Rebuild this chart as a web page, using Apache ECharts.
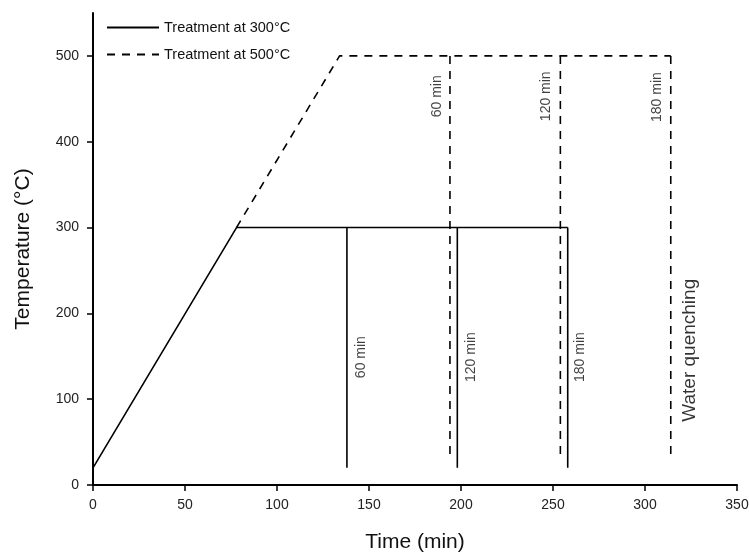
<!DOCTYPE html>
<html>
<head>
<meta charset="utf-8">
<script src="https://cdn.jsdelivr.net/npm/echarts@6/dist/echarts.min.js"></script>
<style>html,body{margin:0;padding:0;background:#fff}#c{width:749px;height:555px}</style>
</head>
<body>
<div id="c"></div>
<script>
// Treatment at 300°C : heating ramp + hold
const solidPath = [[0, 20], [78, 300], [258, 300]];
// quench verticals for 300°C (x, top, bottom)
const solidDrops = [[138, 300, 20], [198, 300, 20], [258, 300, 20]];
// Treatment at 500°C : continuing ramp + hold
const dashedPath = [[78, 300], [134, 500], [314, 500]];
const dashedDrops = [[194, 500, 35], [254, 500, 35], [314, 500, 35]];
// annotation labels [x, y, text]
const solidLabels = [[145.5, 149, '60 min'], [205.5, 149, '120 min'], [264.5, 149, '180 min']];
const dashedLabels = [[187, 453, '60 min'], [246.5, 453, '120 min'], [306.5, 452, '180 min']];
const quenchLabel = [[324.5, 157, 'Water quenching']];
const xTicks = [0, 50, 100, 150, 200, 250, 300, 350];
const yTicks = [0, 100, 200, 300, 400, 500];

const S1 = 'Treatment at 300°C', S2 = 'Treatment at 500°C';
const FONT = 'Liberation Sans, Arial, sans-serif';
const solidStyle = {color: '#000', width: 1.6, type: 'solid'};
const dashedStyle = {color: '#000', width: 1.6, type: [8, 7]};

const series = [];
series.push({name: S1, type: 'line', data: solidPath, symbol: 'none', lineStyle: solidStyle, itemStyle: {color: '#000'}, z: 3});
solidDrops.forEach(d => series.push({name: S1, type: 'line', data: [[d[0], d[1]], [d[0], d[2]]], symbol: 'none', lineStyle: solidStyle, itemStyle: {color: '#000'}, z: 3}));
series.push({name: S2, type: 'line', data: dashedPath, symbol: 'none', lineStyle: dashedStyle, itemStyle: {color: '#000'}, z: 2});
dashedDrops.forEach(d => series.push({name: S2, type: 'line', data: [[d[0], d[1]], [d[0], d[2]]], symbol: 'none', lineStyle: dashedStyle, itemStyle: {color: '#000'}, z: 2}));

function labelSeries(arr, size, color) {
  return {
    type: 'scatter', symbolSize: 0, silent: true,
    data: arr.map(a => ({value: [a[0], a[1]], name: a[2]})),
    label: {show: true, position: 'inside', rotate: 90, formatter: p => p.name,
      fontFamily: FONT, fontSize: size, color: color}
  };
}
series.push(labelSeries(solidLabels, 14, '#111'));
series.push(labelSeries(dashedLabels, 14, '#111'));
series.push(labelSeries(quenchLabel, 19, '#000'));

const chart = echarts.init(document.getElementById('c'), null, {renderer: 'canvas'});
chart.setOption({
  animation: false,
  backgroundColor: '#fff',
  grid: {left: 93, right: 12, top: 13, bottom: 70, containLabel: false, outerBoundsMode: 'none'},
  legend: {
    data: [S1, S2], orient: 'vertical', left: 101, top: 15,
    itemWidth: 52, itemHeight: 14, itemGap: 12,
    itemStyle: {opacity: 0},
    textStyle: {fontFamily: FONT, fontSize: 14.5, color: '#111'}
  },
  xAxis: {
    type: 'value', min: 0, max: 350, interval: 50,
    name: 'Time (min)', nameLocation: 'middle', nameGap: 47,
    nameTextStyle: {fontFamily: FONT, fontSize: 21, color: '#111'},
    axisLine: {lineStyle: {color: '#000', width: 2}},
    axisTick: {show: true, length: 6, lineStyle: {color: '#000', width: 1.5}, customValues: xTicks},
    axisLabel: {fontFamily: FONT, fontSize: 14, color: '#222', margin: 13, customValues: xTicks},
    splitLine: {show: false}
  },
  yAxis: {
    type: 'value', min: 0, max: 550,
    name: 'Temperature (°C)', nameLocation: 'middle', nameGap: 59,
    nameTextStyle: {fontFamily: FONT, fontSize: 21, color: '#111'},
    axisLine: {show: true, lineStyle: {color: '#000', width: 2}},
    axisTick: {show: true, length: 6, lineStyle: {color: '#000', width: 1.5}, customValues: yTicks},
    axisLabel: {fontFamily: FONT, fontSize: 14, color: '#222', margin: 14, customValues: yTicks},
    splitLine: {show: false}
  },
  series: series
});
</script>
</body>
</html>
